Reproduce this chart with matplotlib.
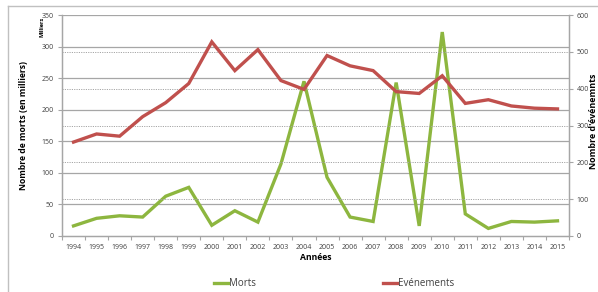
import matplotlib
matplotlib.use('Agg')
import matplotlib.pyplot as plt
import numpy as np
from matplotlib.lines import Line2D

plt.rcParams['font.family'] = ['Open Sans', 'DejaVu Sans']

# Data
years = [1994, 1995, 1996, 1997, 1998, 1999, 2000, 2001, 2002, 2003, 2004,
         2005, 2006, 2007, 2008, 2009, 2010, 2011, 2012, 2013, 2014, 2015]
morts = [16, 28, 32, 30, 63, 77, 17, 40, 22, 114, 245,
         93, 30, 23, 243, 16, 323, 35, 12, 23, 22, 24]
evenements = [255, 277, 271, 324, 362, 414, 527, 449, 506, 422, 398,
              490, 462, 449, 392, 387, 435, 360, 370, 353, 347, 345]

green = '#8db63f'
red = '#c0504d'
grid_col = '#a6a6a6'
tick_col = '#404040'

fig = plt.figure(figsize=(5.98, 2.92), dpi=100)
ax = fig.add_axes([62 / 598, 1 - 236 / 292, (569 - 62) / 598, (236 - 15) / 292])
ax2 = ax.twinx()

x = np.arange(len(years))

# grid lines: solid for the left axis, dotted for the right
for v in range(50, 351, 50):
    ax.axhline(v, color=grid_col, lw=0.9, zorder=0)
for v in range(100, 601, 100):
    ax2.axhline(v, color=grid_col, lw=0.7, ls=(0, (1.2, 1.2)), zorder=0)

ax.plot(x, morts, color=green, lw=2.4, solid_joinstyle='miter', zorder=3)
ax2.plot(x, evenements, color=red, lw=2.4, solid_joinstyle='miter', zorder=3)

ax.set_xlim(-0.5, len(years) - 0.5)
ax.set_ylim(0, 350)
ax2.set_ylim(0, 600)

ax.set_yticks(range(0, 351, 50))
ax2.set_yticks(range(0, 601, 100))
ax.set_xticks(x)
ax.set_xticklabels([str(y) for y in years])
ax.set_xticks(np.arange(-0.5, len(years), 1), minor=True)

ax.tick_params(axis='x', which='major', length=0, labelsize=5, colors=tick_col, pad=6)
ax.tick_params(axis='x', which='minor', length=3, color=grid_col, width=0.8)
ax.tick_params(axis='y', length=3, labelsize=5, colors=tick_col, color=grid_col, pad=3)
ax2.tick_params(axis='y', length=3, labelsize=5, colors=tick_col, color=grid_col, pad=2.5)

for a in (ax, ax2):
    for s in a.spines.values():
        s.set_color(grid_col)
        s.set_linewidth(0.9)
    a.spines['top'].set_visible(False)

# axis titles
fig.text(316 / 598, 1 - 257 / 292, 'Années', fontsize=6.2, fontweight='bold',
         ha='center', va='center')
fig.text(24 / 598, 1 - 125 / 292, 'Nombre de morts (en milliers)', rotation=90,
         fontsize=6.2, fontweight='bold', ha='center', va='center')
fig.text(594 / 598, 1 - 121 / 292, "Nombre d'événemnts", rotation=90,
         fontsize=6.4, fontweight='bold', ha='center', va='center')
fig.text(42 / 598, 1 - 27 / 292, 'Milliers', rotation=90, fontsize=4, fontweight='bold',
         ha='center', va='center')

# legend at bottom
handles = [Line2D([], [], color=green, lw=2.4), Line2D([], [], color=red, lw=2.4)]
leg = fig.legend(handles, ['Morts', 'Evénements'], loc='center', ncol=2,
                 bbox_to_anchor=(334 / 598, 1 - 284 / 292), frameon=False, fontsize=7,
                 handlelength=1.5, handletextpad=0.1, columnspacing=13)
for t in leg.get_texts():
    t.set_color('#404040')

# chart border
fig.add_artist(Line2D([8 / 598, 8 / 598], [0, 1 - 6 / 292], color='#c0c0c0', lw=1,
                      transform=fig.transFigure))
fig.add_artist(Line2D([8 / 598, 1], [1 - 6 / 292, 1 - 6 / 292], color='#c0c0c0', lw=1,
                      transform=fig.transFigure))

fig.savefig('out.png', dpi=100)
